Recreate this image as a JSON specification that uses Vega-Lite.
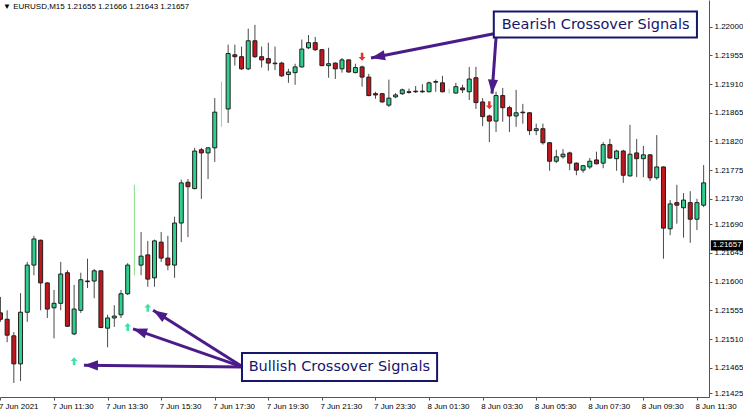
{
"$schema":"https://vega.github.io/schema/vega-lite/v6.json",
"width":709,"height":397,
"autosize":{"type":"none"},
"padding":{"left":0,"top":0,"right":34,"bottom":17},
"background":"white",
"config":{"view":{"stroke":null},"font":"Liberation Sans","axis":{"labelOverlap":false,"labelFlush":false}},
"title":{"text":"▼ EURUSD,M15  1.21655 1.21666 1.21643 1.21657","anchor":"start","frame":"group","orient":"top","offset":-11,"dx":3,"fontSize":8,"fontWeight":"normal","font":"Liberation Sans","color":"#000000"},
"datasets":{
"bars":[
{"t":"2021-06-07T09:30:00Z","o":1.21551,"h":1.21576,"l":1.21537,"c":1.21541},
{"t":"2021-06-07T09:45:00Z","o":1.21541,"h":1.21555,"l":1.21505,"c":1.21516},
{"t":"2021-06-07T10:00:00Z","o":1.21515,"h":1.21521,"l":1.21441,"c":1.21471},
{"t":"2021-06-07T10:15:00Z","o":1.21471,"h":1.21582,"l":1.21444,"c":1.21552},
{"t":"2021-06-07T10:30:00Z","o":1.21552,"h":1.21631,"l":1.21537,"c":1.21626},
{"t":"2021-06-07T10:45:00Z","o":1.21626,"h":1.21672,"l":1.21610,"c":1.21667},
{"t":"2021-06-07T11:00:00Z","o":1.21665,"h":1.21666,"l":1.21555,"c":1.21598},
{"t":"2021-06-07T11:15:00Z","o":1.21598,"h":1.21599,"l":1.21543,"c":1.21557},
{"t":"2021-06-07T11:30:00Z","o":1.21559,"h":1.21587,"l":1.21511,"c":1.21566},
{"t":"2021-06-07T11:45:00Z","o":1.21566,"h":1.21631,"l":1.21555,"c":1.21612},
{"t":"2021-06-07T12:00:00Z","o":1.21614,"h":1.21618,"l":1.21529,"c":1.21530},
{"t":"2021-06-07T12:15:00Z","o":1.21518,"h":1.21595,"l":1.21516,"c":1.21557},
{"t":"2021-06-07T12:30:00Z","o":1.21555,"h":1.21614,"l":1.21551,"c":1.21603},
{"t":"2021-06-07T12:45:00Z","o":1.21601,"h":1.21636,"l":1.21590,"c":1.21600},
{"t":"2021-06-07T13:00:00Z","o":1.21601,"h":1.21620,"l":1.21574,"c":1.21617},
{"t":"2021-06-07T13:15:00Z","o":1.21617,"h":1.21618,"l":1.21527,"c":1.21528},
{"t":"2021-06-07T13:30:00Z","o":1.21527,"h":1.21548,"l":1.21497,"c":1.21543},
{"t":"2021-06-07T13:45:00Z","o":1.21543,"h":1.21563,"l":1.21529,"c":1.21546},
{"t":"2021-06-07T14:00:00Z","o":1.21548,"h":1.21587,"l":1.21543,"c":1.21581},
{"t":"2021-06-07T14:15:00Z","o":1.21581,"h":1.21629,"l":1.21579,"c":1.21626},
{"t":"2021-06-07T14:30:00Z","o":1.21625,"h":1.21752,"l":1.21610,"c":1.21628,"s":1},
{"t":"2021-06-07T14:45:00Z","o":1.21626,"h":1.21678,"l":1.21610,"c":1.21640},
{"t":"2021-06-07T15:00:00Z","o":1.21642,"h":1.21664,"l":1.21592,"c":1.21604},
{"t":"2021-06-07T15:15:00Z","o":1.21606,"h":1.21666,"l":1.21592,"c":1.21664},
{"t":"2021-06-07T15:30:00Z","o":1.21662,"h":1.21678,"l":1.21631,"c":1.21637},
{"t":"2021-06-07T15:45:00Z","o":1.21637,"h":1.21672,"l":1.21618,"c":1.21626},
{"t":"2021-06-07T16:00:00Z","o":1.21626,"h":1.21702,"l":1.21606,"c":1.21692},
{"t":"2021-06-07T16:15:00Z","o":1.21692,"h":1.21760,"l":1.21662,"c":1.21755},
{"t":"2021-06-07T16:30:00Z","o":1.21756,"h":1.21761,"l":1.21670,"c":1.21749},
{"t":"2021-06-07T16:45:00Z","o":1.21746,"h":1.21810,"l":1.21745,"c":1.21805},
{"t":"2021-06-07T17:00:00Z","o":1.21807,"h":1.21810,"l":1.21730,"c":1.21802},
{"t":"2021-06-07T17:15:00Z","o":1.21802,"h":1.21811,"l":1.21761,"c":1.21810},
{"t":"2021-06-07T17:30:00Z","o":1.21810,"h":1.21888,"l":1.21788,"c":1.21866},
{"t":"2021-06-07T17:45:00Z","o":1.21868,"h":1.21914,"l":1.21843,"c":1.21871,"s":1},
{"t":"2021-06-07T18:00:00Z","o":1.21871,"h":1.21972,"l":1.21849,"c":1.21958},
{"t":"2021-06-07T18:15:00Z","o":1.21956,"h":1.21972,"l":1.21939,"c":1.21953},
{"t":"2021-06-07T18:30:00Z","o":1.21953,"h":1.21969,"l":1.21932,"c":1.21934},
{"t":"2021-06-07T18:45:00Z","o":1.21934,"h":1.21997,"l":1.21932,"c":1.21978},
{"t":"2021-06-07T19:00:00Z","o":1.21978,"h":1.22003,"l":1.21951,"c":1.21953},
{"t":"2021-06-07T19:15:00Z","o":1.21953,"h":1.21969,"l":1.21936,"c":1.21948},
{"t":"2021-06-07T19:30:00Z","o":1.21950,"h":1.21975,"l":1.21931,"c":1.21943},
{"t":"2021-06-07T19:45:00Z","o":1.21942,"h":1.21969,"l":1.21932,"c":1.21943},
{"t":"2021-06-07T20:00:00Z","o":1.21943,"h":1.21945,"l":1.21921,"c":1.21923},
{"t":"2021-06-07T20:15:00Z","o":1.21925,"h":1.21934,"l":1.21912,"c":1.21929},
{"t":"2021-06-07T20:30:00Z","o":1.21928,"h":1.21942,"l":1.21909,"c":1.21937},
{"t":"2021-06-07T20:45:00Z","o":1.21937,"h":1.21980,"l":1.21936,"c":1.21965},
{"t":"2021-06-07T21:00:00Z","o":1.21967,"h":1.21987,"l":1.21965,"c":1.21975},
{"t":"2021-06-07T21:15:00Z","o":1.21975,"h":1.21984,"l":1.21962,"c":1.21964},
{"t":"2021-06-07T21:30:00Z","o":1.21964,"h":1.21965,"l":1.21938,"c":1.21939},
{"t":"2021-06-07T21:45:00Z","o":1.21939,"h":1.21967,"l":1.21920,"c":1.21942},
{"t":"2021-06-07T22:00:00Z","o":1.21943,"h":1.21944,"l":1.21918,"c":1.21934},
{"t":"2021-06-07T22:15:00Z","o":1.21934,"h":1.21951,"l":1.21928,"c":1.21948},
{"t":"2021-06-07T22:30:00Z","o":1.21948,"h":1.21949,"l":1.21928,"c":1.21929},
{"t":"2021-06-07T22:45:00Z","o":1.21928,"h":1.21942,"l":1.21927,"c":1.21936},
{"t":"2021-06-07T23:00:00Z","o":1.21937,"h":1.21939,"l":1.21906,"c":1.21921},
{"t":"2021-06-07T23:15:00Z","o":1.21921,"h":1.21926,"l":1.21891,"c":1.21892},
{"t":"2021-06-07T23:30:00Z","o":1.21895,"h":1.21898,"l":1.21887,"c":1.21893},
{"t":"2021-06-07T23:45:00Z","o":1.21895,"h":1.21896,"l":1.21881,"c":1.21882},
{"t":"2021-06-08T00:00:00Z","o":1.21877,"h":1.21917,"l":1.21874,"c":1.21888},
{"t":"2021-06-08T00:15:00Z","o":1.21890,"h":1.21896,"l":1.21888,"c":1.21893},
{"t":"2021-06-08T00:30:00Z","o":1.21895,"h":1.21903,"l":1.21893,"c":1.21901},
{"t":"2021-06-08T00:45:00Z","o":1.21898,"h":1.21903,"l":1.21895,"c":1.21897},
{"t":"2021-06-08T01:00:00Z","o":1.21898,"h":1.21907,"l":1.21896,"c":1.21899},
{"t":"2021-06-08T01:15:00Z","o":1.21899,"h":1.21910,"l":1.21896,"c":1.21898},
{"t":"2021-06-08T01:30:00Z","o":1.21898,"h":1.21914,"l":1.21897,"c":1.21912},
{"t":"2021-06-08T01:45:00Z","o":1.21913,"h":1.21917,"l":1.21898,"c":1.21914},
{"t":"2021-06-08T02:00:00Z","o":1.21912,"h":1.21923,"l":1.21897,"c":1.21898},
{"t":"2021-06-08T02:15:00Z","o":1.21896,"h":1.21903,"l":1.21895,"c":1.21901,"s":1},
{"t":"2021-06-08T02:30:00Z","o":1.21896,"h":1.21912,"l":1.21895,"c":1.21906},
{"t":"2021-06-08T02:45:00Z","o":1.21904,"h":1.21909,"l":1.21896,"c":1.21901},
{"t":"2021-06-08T03:00:00Z","o":1.21898,"h":1.21937,"l":1.21885,"c":1.21918},
{"t":"2021-06-08T03:15:00Z","o":1.21920,"h":1.21937,"l":1.21871,"c":1.21881},
{"t":"2021-06-08T03:30:00Z","o":1.21882,"h":1.21888,"l":1.21844,"c":1.21859},
{"t":"2021-06-08T03:45:00Z","o":1.21860,"h":1.21862,"l":1.21819,"c":1.21852},
{"t":"2021-06-08T04:00:00Z","o":1.21852,"h":1.21898,"l":1.21835,"c":1.21892},
{"t":"2021-06-08T04:15:00Z","o":1.21892,"h":1.21904,"l":1.21851,"c":1.21873},
{"t":"2021-06-08T04:30:00Z","o":1.21873,"h":1.21876,"l":1.21835,"c":1.21860},
{"t":"2021-06-08T04:45:00Z","o":1.21860,"h":1.21901,"l":1.21843,"c":1.21865},
{"t":"2021-06-08T05:00:00Z","o":1.21866,"h":1.21879,"l":1.21848,"c":1.21865},
{"t":"2021-06-08T05:15:00Z","o":1.21865,"h":1.21866,"l":1.21830,"c":1.21837},
{"t":"2021-06-08T05:30:00Z","o":1.21837,"h":1.21848,"l":1.21830,"c":1.21840},
{"t":"2021-06-08T05:45:00Z","o":1.21840,"h":1.21848,"l":1.21815,"c":1.21818},
{"t":"2021-06-08T06:00:00Z","o":1.21818,"h":1.21819,"l":1.21774,"c":1.21789},
{"t":"2021-06-08T06:15:00Z","o":1.21789,"h":1.21807,"l":1.21786,"c":1.21796},
{"t":"2021-06-08T06:30:00Z","o":1.21796,"h":1.21808,"l":1.21793,"c":1.21800},
{"t":"2021-06-08T06:45:00Z","o":1.21802,"h":1.21804,"l":1.21775,"c":1.21786},
{"t":"2021-06-08T07:00:00Z","o":1.21786,"h":1.21787,"l":1.21767,"c":1.21775},
{"t":"2021-06-08T07:15:00Z","o":1.21775,"h":1.21783,"l":1.21771,"c":1.21782},
{"t":"2021-06-08T07:30:00Z","o":1.21780,"h":1.21794,"l":1.21777,"c":1.21789},
{"t":"2021-06-08T07:45:00Z","o":1.21791,"h":1.21804,"l":1.21784,"c":1.21785},
{"t":"2021-06-08T08:00:00Z","o":1.21786,"h":1.21819,"l":1.21778,"c":1.21815},
{"t":"2021-06-08T08:15:00Z","o":1.21815,"h":1.21824,"l":1.21793,"c":1.21794},
{"t":"2021-06-08T08:30:00Z","o":1.21793,"h":1.21807,"l":1.21774,"c":1.21805},
{"t":"2021-06-08T08:45:00Z","o":1.21805,"h":1.21807,"l":1.21755,"c":1.21767},
{"t":"2021-06-08T09:00:00Z","o":1.21766,"h":1.21846,"l":1.21765,"c":1.21800},
{"t":"2021-06-08T09:15:00Z","o":1.21802,"h":1.21824,"l":1.21764,"c":1.21793},
{"t":"2021-06-08T09:30:00Z","o":1.21793,"h":1.21813,"l":1.21764,"c":1.21799},
{"t":"2021-06-08T09:45:00Z","o":1.21799,"h":1.21800,"l":1.21758,"c":1.21763},
{"t":"2021-06-08T10:00:00Z","o":1.21763,"h":1.21830,"l":1.21760,"c":1.21780},
{"t":"2021-06-08T10:15:00Z","o":1.21780,"h":1.21781,"l":1.21636,"c":1.21684},
{"t":"2021-06-08T10:30:00Z","o":1.21683,"h":1.21728,"l":1.21673,"c":1.21722},
{"t":"2021-06-08T10:45:00Z","o":1.21724,"h":1.21752,"l":1.21691,"c":1.21720},
{"t":"2021-06-08T11:00:00Z","o":1.21716,"h":1.21739,"l":1.21669,"c":1.21728},
{"t":"2021-06-08T11:15:00Z","o":1.21724,"h":1.21742,"l":1.21661,"c":1.21698},
{"t":"2021-06-08T11:30:00Z","o":1.21698,"h":1.21730,"l":1.21681,"c":1.21724},
{"t":"2021-06-08T11:45:00Z","o":1.21720,"h":1.21783,"l":1.21717,"c":1.21755}
],
"sig":[
{"t":"2021-06-07T12:15:00Z","p":1.21475,"dir":"up"},
{"t":"2021-06-07T14:15:00Z","p":1.21529,"dir":"up"},
{"t":"2021-06-07T15:00:00Z","p":1.21559,"dir":"up"},
{"t":"2021-06-07T23:00:00Z","p":1.21953,"dir":"down"},
{"t":"2021-06-08T03:45:00Z","p":1.21877,"dir":"down"}
],
"arrows":[
{"t1":"2021-06-08T03:55:00Z","p1":1.21989,"t2":"2021-06-07T23:20:00Z","p2":1.21951,"heading":259},
{"t1":"2021-06-08T04:00:00Z","p1":1.21983,"t2":"2021-06-08T03:51:00Z","p2":1.21895,"heading":184},
{"t1":"2021-06-07T18:33:00Z","p1":1.21466,"t2":"2021-06-07T15:12:00Z","p2":1.21555,"heading":302},
{"t1":"2021-06-07T18:33:00Z","p1":1.21466,"t2":"2021-06-07T14:27:00Z","p2":1.21526,"heading":289},
{"t1":"2021-06-07T18:33:00Z","p1":1.21466,"t2":"2021-06-07T12:37:00Z","p2":1.21469,"heading":271}
],
"boxes":[
{"label":"Bearish Crossover Signals","t1":"2021-06-08T03:55:00Z","t2":"2021-06-08T11:30:00Z","p1":1.22024,"p2":1.21983,"tc":"2021-06-08T07:43:00Z","pc":1.22003},
{"label":"Bullish Crossover Signals","t1":"2021-06-07T18:31:00Z","t2":"2021-06-08T01:48:00Z","p1":1.21488,"p2":1.21444,"tc":"2021-06-07T22:09:00Z","pc":1.21466}
],
"price":[
{"t1":"2021-06-08T12:01:00Z","t2":"2021-06-08T13:14:00Z","p1":1.21665,"p2":1.21649,"p":1.21657,"label":"1.21657"}
]
},
"layer":[
{"data":{"name":"bars"},
 "mark":{"type":"rule","strokeWidth":1},
 "encoding":{
  "x":{"field":"t","type":"temporal","title":null,"scale":{"type":"utc","padding":0,"domain":[{"year":2021,"month":6,"date":7,"hours":9,"minutes":29,"utc":true},{"year":2021,"month":6,"date":8,"hours":11,"minutes":57,"utc":true}]},
   "axis":{"title":null,"grid":false,"orient":"bottom","tickCount":40,
    "values":[{"year":2021,"month":6,"date":7,"hours":9,"minutes":30,"utc":true},{"year":2021,"month":6,"date":7,"hours":11,"minutes":30,"utc":true},{"year":2021,"month":6,"date":7,"hours":13,"minutes":30,"utc":true},{"year":2021,"month":6,"date":7,"hours":15,"minutes":30,"utc":true},{"year":2021,"month":6,"date":7,"hours":17,"minutes":30,"utc":true},{"year":2021,"month":6,"date":7,"hours":19,"minutes":30,"utc":true},{"year":2021,"month":6,"date":7,"hours":21,"minutes":30,"utc":true},{"year":2021,"month":6,"date":7,"hours":23,"minutes":30,"utc":true},{"year":2021,"month":6,"date":8,"hours":1,"minutes":30,"utc":true},{"year":2021,"month":6,"date":8,"hours":3,"minutes":30,"utc":true},{"year":2021,"month":6,"date":8,"hours":5,"minutes":30,"utc":true},{"year":2021,"month":6,"date":8,"hours":7,"minutes":30,"utc":true},{"year":2021,"month":6,"date":8,"hours":9,"minutes":30,"utc":true},{"year":2021,"month":6,"date":8,"hours":11,"minutes":30,"utc":true}],
    "labelExpr":"datum.index == 0 ? '7 Jun 2021' : utcFormat(datum.value, '%-d %b %H:%M')",
    "labelAlign":"left","labelFlush":false,"labelOverlap":false,"labelOffset":-2,
    "labelFont":"Liberation Sans","labelFontSize":8,"labelColor":"#000000","labelPadding":2,
    "tickSize":3,"tickColor":"#555555","domainColor":"#555555","domainWidth":1}},
  "y":{"field":"l","type":"quantitative","title":null,"scale":{"domain":[1.21419,1.22042],"nice":false,"zero":false,"padding":0},
   "axis":{"title":null,"grid":false,"orient":"right","tickCount":40,
    "values":[1.21425,1.21465,1.2151,1.21555,1.216,1.21645,1.2169,1.2173,1.21775,1.2182,1.21865,1.2191,1.21955,1.22],
    "format":".5f","labelFont":"Liberation Sans","labelFontSize":8,"labelColor":"#000000","labelPadding":2,
    "tickSize":3,"tickColor":"#555555","domainColor":"#555555","domainWidth":1,"labelOverlap":false}},
  "y2":{"field":"h"},
  "color":{"condition":{"test":"datum.s == 1","value":"#86e086"},"value":"#4a4a4a"}
 }},
{"data":{"name":"bars"},
 "transform":[{"filter":"datum.s != 1"}],
 "mark":{"type":"bar","width":4,"stroke":"#1e1e1e","strokeWidth":1},
 "encoding":{
  "x":{"field":"t","type":"temporal","title":null},
  "y":{"field":"o","type":"quantitative","title":null},
  "y2":{"field":"c"},
  "fill":{"condition":{"test":"datum.c > datum.o","value":"#2fd08e"},"value":"#c2161d"}
 }},
{"data":{"name":"sig"},
 "mark":{"type":"point","shape":"M0,-1L0.85,-0.1L0.32,-0.1L0.32,1L-0.32,1L-0.32,-0.1L-0.85,-0.1Z","filled":true,"size":64,"opacity":1},
 "encoding":{
  "x":{"field":"t","type":"temporal","title":null},
  "y":{"field":"p","type":"quantitative","title":null},
  "color":{"condition":{"test":"datum.dir == 'up'","value":"#3de3a6"},"value":"#e3342c"},
  "angle":{"condition":{"test":"datum.dir == 'down'","value":180},"value":0}
 }},
{"data":{"name":"arrows"},
 "mark":{"type":"rule","strokeWidth":3,"color":"#4b1c89"},
 "encoding":{
  "x":{"field":"t1","type":"temporal","title":null},
  "y":{"field":"p1","type":"quantitative","title":null},
  "x2":{"field":"t2"},
  "y2":{"field":"p2"}
 }},
{"data":{"name":"arrows"},
 "mark":{"type":"point","shape":"M0,0L0.36,1L-0.36,1Z","filled":true,"size":784,"color":"#4b1c89","opacity":1},
 "encoding":{
  "x":{"field":"t2","type":"temporal","title":null},
  "y":{"field":"p2","type":"quantitative","title":null},
  "angle":{"field":"heading","type":"quantitative","scale":null}
 }},
{"data":{"name":"boxes"},
 "mark":{"type":"rect","fill":"#ffffff","stroke":"#16166b","strokeWidth":2},
 "encoding":{
  "x":{"field":"t1","type":"temporal","title":null},
  "x2":{"field":"t2"},
  "y":{"field":"p1","type":"quantitative","title":null},
  "y2":{"field":"p2"}
 }},
{"data":{"name":"boxes"},
 "mark":{"type":"text","font":"DejaVu Sans","fontSize":14.5,"color":"#16166b","align":"center","baseline":"middle"},
 "encoding":{
  "x":{"field":"tc","type":"temporal","title":null},
  "y":{"field":"pc","type":"quantitative","title":null},
  "text":{"field":"label"}
 }},
{"data":{"name":"price"},
 "mark":{"type":"rect","fill":"#000000"},
 "encoding":{
  "x":{"field":"t1","type":"temporal","title":null},
  "x2":{"field":"t2"},
  "y":{"field":"p1","type":"quantitative","title":null},
  "y2":{"field":"p2"}
 }},
{"data":{"name":"price"},
 "mark":{"type":"text","font":"Liberation Sans","fontSize":8,"color":"#ffffff","align":"left","baseline":"middle","dx":2},
 "encoding":{
  "x":{"field":"t1","type":"temporal","title":null},
  "y":{"field":"p","type":"quantitative","title":null},
  "text":{"field":"label"}
 }},
{"mark":{"type":"rule","color":"#9a9a9a","strokeWidth":1},
 "encoding":{"y":{"datum":1.220405,"type":"quantitative","title":null}}}
]
}
